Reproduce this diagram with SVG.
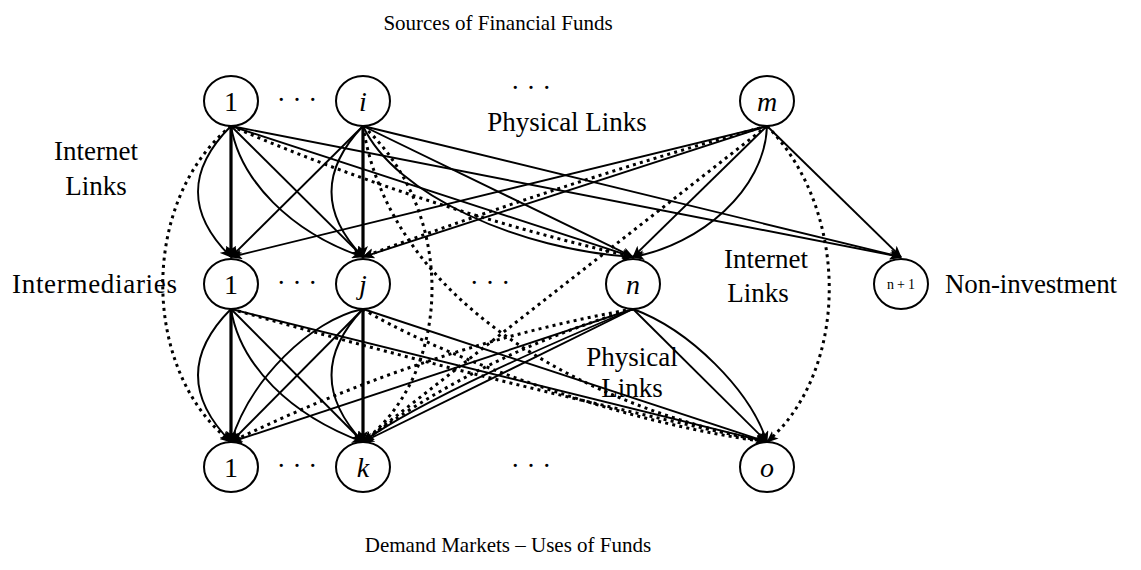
<svg xmlns="http://www.w3.org/2000/svg" width="1141" height="570" viewBox="0 0 1141 570">
<style>
.bg{fill:#fff}
.nd{fill:#fff;stroke:#000;stroke-width:2}
.t{font-family:"Liberation Serif","Times New Roman",serif;fill:#000}
.lbl{font-size:27px}
.nl{font-size:28px;text-anchor:middle;dominant-baseline:central}
.it{font-style:italic}
.s{fill:none;stroke:#000;stroke-width:1.9;marker-end:url(#ah)}
.th{stroke-width:3.2}
.d{fill:none;stroke:#000;stroke-width:3;stroke-dasharray:3 4.2;marker-end:url(#ah)}
</style>
<defs>
<marker id="ah" viewBox="0 0 12 10" refX="11" refY="5" markerWidth="12" markerHeight="10" markerUnits="userSpaceOnUse" orient="auto">
<path d="M0,0 L12,5 L0,10 L3,5 z" fill="#000"/>
</marker>
</defs>
<rect class="bg" x="0" y="0" width="1141" height="570"/>
<g id="connectors">
<path class="s th" d="M231,126 L231,257"/>
<path class="s" d="M231,126 Q165,192 231,257"/>
<path class="s" d="M231,126 L363,257"/>
<path class="s" d="M231,126 C240,180 290,232 363,257"/>
<path class="s" d="M231,126 L633,257"/>
<path class="d" d="M231,126 Q420,208 633,257"/>
<path class="s" d="M231,126 L901,257"/>
<path class="d" d="M231,126 C140,200 140,370 231,442"/>
<path class="s th" d="M363,126 L363,257"/>
<path class="s" d="M363,126 Q300,192 363,257"/>
<path class="s" d="M363,126 L231,257"/>
<path class="s" d="M363,126 L633,257"/>
<path class="s" d="M363,126 C395,195 520,250 633,257"/>
<path class="s" d="M363,126 L901,257"/>
<path class="d" d="M363,126 C455,210 455,370 363,442"/>
<path class="d" d="M363,126 C390,300 580,405 767,442"/>
<path class="s" d="M767,126 L231,257"/>
<path class="s" d="M767,126 L363,257"/>
<path class="d" d="M767,126 Q570,180 363,257"/>
<path class="s" d="M767,126 L633,257"/>
<path class="s" d="M767,126 C765,190 700,245 633,257"/>
<path class="s" d="M767,126 L901,257"/>
<path class="d" d="M767,126 C850,210 850,370 767,442"/>
<path class="d" d="M767,126 L363,442"/>
<path class="s th" d="M231,309 L231,442"/>
<path class="s" d="M231,309 Q165,375 231,442"/>
<path class="s" d="M231,309 L363,442"/>
<path class="s" d="M231,309 C240,365 290,415 363,442"/>
<path class="s" d="M231,309 L767,442"/>
<path class="d" d="M231,309 Q500,385 767,442"/>
<path class="s th" d="M363,309 L363,442"/>
<path class="s" d="M363,309 Q300,375 363,442"/>
<path class="s" d="M363,309 L231,442"/>
<path class="s" d="M363,309 C310,320 250,380 231,442"/>
<path class="s" d="M363,309 L767,442"/>
<path class="d" d="M363,309 C420,345 600,420 767,442"/>
<path class="s" d="M633,309 L767,442"/>
<path class="s" d="M633,309 C690,330 750,390 767,442"/>
<path class="s" d="M633,309 L231,442"/>
<path class="d" d="M633,309 Q430,345 231,442"/>
<path class="s" d="M633,309 L363,442"/>
<path class="d" d="M633,309 Q480,355 363,442"/>
<path class="s" d="M633,309 C560,340 420,400 363,442"/>
</g>
<g id="src-1"><ellipse class="nd" cx="231" cy="101" rx="27" ry="25"/><text class="t nl" x="231" y="101">1</text></g>
<g id="src-i"><ellipse class="nd" cx="363" cy="101" rx="27" ry="25"/><text class="t nl it" x="363" y="101">i</text></g>
<g id="src-m"><ellipse class="nd" cx="767" cy="101" rx="27" ry="25"/><text class="t nl it" x="767" y="101">m</text></g>
<g id="int-1"><ellipse class="nd" cx="231" cy="284" rx="27" ry="25"/><text class="t nl" x="231" y="284">1</text></g>
<g id="int-j"><ellipse class="nd" cx="363" cy="284" rx="27" ry="25"/><text class="t nl it" x="363" y="284">j</text></g>
<g id="int-n"><ellipse class="nd" cx="633" cy="284" rx="27" ry="25"/><text class="t nl it" x="633" y="284">n</text></g>
<g id="int-n1"><ellipse class="nd" cx="901" cy="284" rx="27" ry="25"/><text class="t" x="887" y="289" font-size="14" textLength="28">n+1</text></g>
<g id="dem-1"><ellipse class="nd" cx="231" cy="467" rx="27" ry="25"/><text class="t nl" x="231" y="467">1</text></g>
<g id="dem-k"><ellipse class="nd" cx="363" cy="467" rx="27" ry="25"/><text class="t nl it" x="363" y="467">k</text></g>
<g id="dem-o"><ellipse class="nd" cx="767" cy="467" rx="27" ry="25"/><text class="t nl it" x="767" y="467">o</text></g>
<g id="labels">
<text class="t" x="498" y="30" font-size="21" text-anchor="middle">Sources of Financial Funds</text>
<text class="t lbl" x="297" y="109" text-anchor="middle">· · ·</text>
<text class="t lbl" x="531" y="97" text-anchor="middle">· · ·</text>
<text class="t lbl" x="567" y="131" text-anchor="middle">Physical Links</text>
<text class="t lbl" x="96" y="160" text-anchor="middle">Internet</text>
<text class="t lbl" x="96" y="195" text-anchor="middle">Links</text>
<text class="t lbl" x="12" y="293" textLength="165">Intermediaries</text>
<text class="t lbl" x="297" y="292" text-anchor="middle">· · ·</text>
<text class="t lbl" x="490" y="292" text-anchor="middle">· · ·</text>
<text class="t lbl" x="766" y="268" text-anchor="middle">Internet</text>
<text class="t lbl" x="758" y="302" text-anchor="middle">Links</text>
<text class="t lbl" x="945" y="293" textLength="172">Non-investment</text>
<text class="t lbl" x="632" y="366" text-anchor="middle">Physical</text>
<text class="t lbl" x="632" y="397" text-anchor="middle">Links</text>
<text class="t lbl" x="297" y="475" text-anchor="middle">· · ·</text>
<text class="t lbl" x="531" y="475" text-anchor="middle">· · ·</text>
<text class="t" x="508" y="552" font-size="21" text-anchor="middle">Demand Markets – Uses of Funds</text>
</g>
</svg>
